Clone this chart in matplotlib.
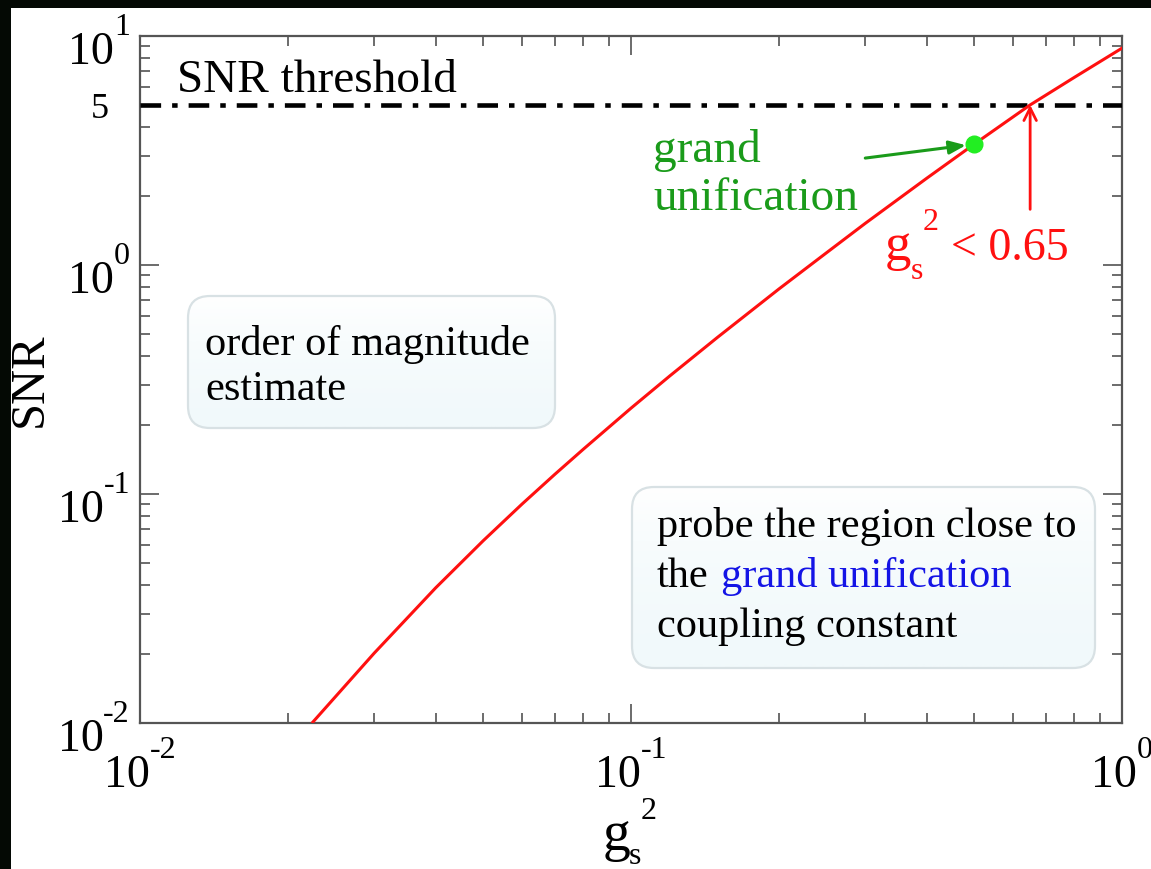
import numpy as np
import matplotlib
matplotlib.use("Agg")
import matplotlib.pyplot as plt
from matplotlib.patches import FancyBboxPatch, Rectangle
from matplotlib.transforms import IdentityTransform
from matplotlib.ticker import LogLocator, FixedLocator, NullFormatter

plt.rcParams["font.family"] = ["Liberation Serif", "DejaVu Serif"]

# SNR as a function of the squared coupling g_s^2
g2_values = [0.0225, 0.03, 0.04, 0.05, 0.06, 0.07, 0.08, 0.1, 0.12, 0.15,
             0.2, 0.25, 0.3, 0.4, 0.5, 0.65, 0.8, 1.0]
snr_values = [0.0101, 0.0202, 0.0389, 0.0625, 0.0904, 0.122, 0.157, 0.237, 0.328, 0.483,
              0.785, 1.13, 1.52, 2.39, 3.37, 5.0, 6.6, 8.85]

snr_threshold = 5.0
gut_point = (0.5, 3.37)
g2_limit = 0.65

x_tick_exponents = [-2, -1, 0]
y_tick_exponents = [-2, -1, 0, 1]

W, H = 1151, 870
fig = plt.figure(figsize=(W / 100, H / 100), dpi=100)
fig.patch.set_facecolor("white")
renderer = fig.canvas.get_renderer()


def fx(px):
    return px / W


def fy(py):
    return 1 - py / H


AX_L, AX_R, AX_T, AX_B = 140, 1122, 37, 724
ax = fig.add_axes([fx(AX_L), fy(AX_B), (AX_R - AX_L) / W, (AX_B - AX_T) / H])
ax.set_xscale("log")
ax.set_yscale("log")
ax.set_xlim(0.01, 1.0)
ax.set_ylim(0.01, 10.0)

# main curve, threshold and the grand-unification point
ax.plot(g2_values, snr_values, color="#ff1010", lw=2.2, zorder=4,
        solid_joinstyle="round")
ax.axhline(snr_threshold, color="black", lw=3.3, dashes=(4.5, 2.4, 1.2, 2.4),
           dash_capstyle="butt", zorder=3)
ax.plot(*gut_point, "o", color="#22ee22", ms=12, mec="#22ee22", zorder=5)

# axes styling: ticks inside on all sides
for sp in ax.spines.values():
    sp.set_color("#555555")
    sp.set_linewidth(1.6)
ax.xaxis.set_major_locator(FixedLocator([10.0 ** e for e in x_tick_exponents]))
ax.yaxis.set_major_locator(FixedLocator([10.0 ** e for e in y_tick_exponents]))
ax.xaxis.set_minor_locator(LogLocator(base=10, subs=range(2, 10), numticks=20))
ax.yaxis.set_minor_locator(LogLocator(base=10, subs=range(2, 10), numticks=20))
for axis in (ax.xaxis, ax.yaxis):
    axis.set_major_formatter(NullFormatter())
    axis.set_minor_formatter(NullFormatter())
ax.tick_params(which="both", direction="in", top=True, right=True,
               color="#444444", width=1.1)
ax.tick_params(which="major", length=14)
ax.tick_params(which="minor", length=7)


def to_px(xv, yv):
    """data coordinates -> image pixels (origin top-left)"""
    dx, dy = ax.transData.transform((xv, yv))
    return dx, H - dy


def text_width(s, size):
    t = fig.text(0, 0, s, fontsize=size)
    w = t.get_window_extent(renderer).width
    t.remove()
    return w


BASE_FS, EXP_FS = 33, 23


def power_label(exp, x, y_base, align):
    """draw 10^exp with the exponent raised above the base digits"""
    es = str(exp)
    w10 = text_width("10", BASE_FS)
    we = text_width(es, EXP_FS)
    if align == "center":
        left = x - (w10 + we) / 2
    else:
        left = x - (w10 + we)
    fig.text(fx(left), fy(y_base), "10", fontsize=BASE_FS, ha="left", va="baseline")
    fig.text(fx(left + w10), fy(y_base - 29), es, fontsize=EXP_FS,
             ha="left", va="baseline")


fig.canvas.draw()
for e in x_tick_exponents:
    px, _ = to_px(10.0 ** e, 1.0)
    power_label(e, px, 787, "center")
for e in y_tick_exponents:
    _, py = to_px(1.0, 10.0 ** e)
    power_label(e, 130, py + 27, "right")

# extra label for the threshold level
_, py5 = to_px(1.0, snr_threshold)
fig.text(fx(109), fy(py5 + 12), "5", fontsize=26, ha="right", va="baseline")

# axis titles
fig.text(fx(30), fy(380), "SNR", fontsize=35, rotation=90, ha="center", va="center")
fig.text(fx(603), fy(850), "g", fontsize=40, ha="left", va="baseline")
fig.text(fx(629), fy(864), "s", fontsize=23, ha="left", va="baseline")
fig.text(fx(641), fy(819), "2", fontsize=23, ha="left", va="baseline")

# threshold label
fig.text(fx(177), fy(92), "SNR threshold", fontsize=34, ha="left", va="baseline")

# grand unification marker annotation
green = "#1a9b1a"
fig.text(fx(653), fy(162), "grand", fontsize=34, color=green, ha="left", va="baseline")
fig.text(fx(653), fy(210), "unification", fontsize=34, color=green, ha="left", va="baseline")
ax.annotate("", xy=gut_point, xytext=(0.30, 2.93),
            arrowprops=dict(arrowstyle="-|>,head_length=1.0,head_width=0.4",
                            color=green, lw=2.2, shrinkA=0, shrinkB=6),
            zorder=6)

# bound on the coupling
red = "#ff1010"
ax.annotate("", xy=(g2_limit, snr_threshold), xytext=(g2_limit, 1.75),
            arrowprops=dict(arrowstyle="->,head_length=0.9,head_width=0.45",
                            color=red, lw=2.0, shrinkA=0, shrinkB=0),
            zorder=6)
fig.text(fx(885), fy(260), "g", fontsize=38, color=red, ha="left", va="baseline")
fig.text(fx(911), fy(279), "s", fontsize=23, color=red, ha="left", va="baseline")
fig.text(fx(923), fy(230), "2", fontsize=23, color=red, ha="left", va="baseline")
fig.text(fx(951), fy(260), "< 0.65", fontsize=33, color=red, ha="left", va="baseline")


# rounded note boxes with a soft vertical gradient (pixel coordinates)
gradient = np.linspace(0, 1, 64).reshape(-1, 1)
grad_cmap = matplotlib.colors.LinearSegmentedColormap.from_list(
    "note", ["#ffffff", "#f1f9fb"])


def note_box(x0, y0, x1, y1):
    box = FancyBboxPatch((x0, H - y1), x1 - x0, y1 - y0,
                         boxstyle="round,pad=0,rounding_size=22",
                         transform=IdentityTransform(), facecolor="none",
                         edgecolor="#d8e1e4", lw=1.6, zorder=2)
    fig.add_artist(box)
    bl = ax.transData.inverted().transform((x0, H - y1))
    tr = ax.transData.inverted().transform((x1, H - y0))
    im = ax.imshow(gradient, cmap=grad_cmap, aspect="auto", origin="upper",
                   extent=(bl[0], tr[0], bl[1], tr[1]), zorder=1,
                   interpolation="bilinear")
    im.set_clip_path(box)


note_box(188, 297, 555, 429)
fig.text(fx(205), fy(355), "order of magnitude", fontsize=30.5, ha="left", va="baseline")
fig.text(fx(205), fy(400), "estimate", fontsize=30.5, ha="left", va="baseline")

note_box(632, 488, 1095, 669)
fig.text(fx(657), fy(537), "probe the region close to", fontsize=30.5, ha="left", va="baseline")
fig.text(fx(657), fy(587), "the", fontsize=30.5, ha="left", va="baseline")
fig.text(fx(721), fy(587), "grand unification", fontsize=30.5, color="#1414e6",
         ha="left", va="baseline")
fig.text(fx(657), fy(637), "coupling constant", fontsize=30.5, ha="left", va="baseline")

ax.set_xlim(0.01, 1.0)
ax.set_ylim(0.01, 10.0)

# dark surround along the top and left edges
fig.add_artist(Rectangle((0, 1 - 9 / H), 1, 9 / H, transform=fig.transFigure,
                         facecolor="#040904", edgecolor="none", zorder=10))
fig.add_artist(Rectangle((0, 0), 11 / W, 1, transform=fig.transFigure,
                         facecolor="#040904", edgecolor="none", zorder=10))

fig.savefig("out.png", dpi=100)
